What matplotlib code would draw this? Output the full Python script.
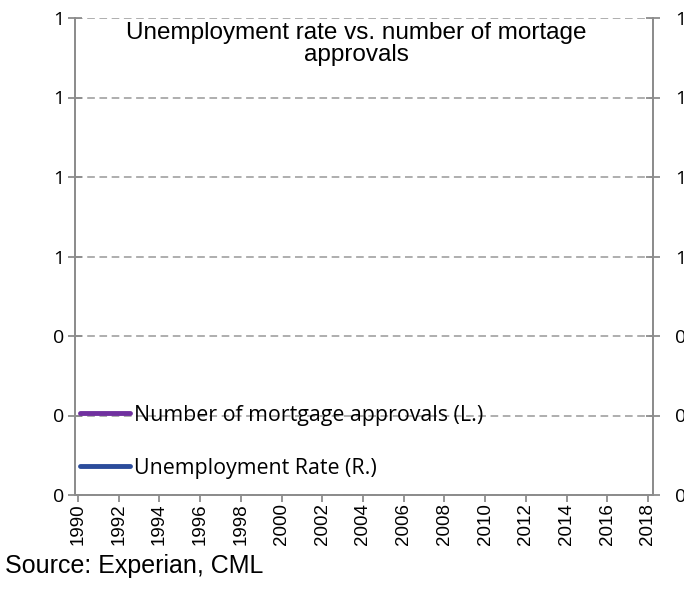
import matplotlib.pyplot as plt
from matplotlib.lines import Line2D

# el grafico original no tiene datos, solo ejes y leyenda
years = list(range(1990, 2019, 2))
mortgage_approvals = []
mortgage_years = []
unemployment_rate = []
unemployment_years = []
y_ticks = [0, 0.2, 0.4, 0.6, 0.8, 1.0, 1.2]

title = 'Unemployment rate vs. number of mortage\napprovals'
source = 'Source: Experian, CML'

grey = '#8c8c8c'

fig = plt.figure(figsize=(6.84, 5.96), dpi=100)
ax = fig.add_axes([75/684, 1 - 495/596, (653 - 75)/684, (495 - 18)/596])
ax2 = ax.twinx()

ax.plot(mortgage_years, mortgage_approvals, color='#70309f', lw=3.5, solid_capstyle='round')
ax2.plot(unemployment_years, unemployment_rate, color='#2b4c9b', lw=3.5, solid_capstyle='round')

ax.set_xlim(1989.85, 2018.25)
for a in (ax, ax2):
    a.set_ylim(0, 1.2)
    a.set_yticks(y_ticks)
    a.set_yticklabels(['%.0f' % v for v in y_ticks], fontsize=14, family='Open Sans')
    for s in a.spines.values():
        s.set_color(grey)
        s.set_linewidth(1.3)
    a.spines['top'].set_visible(False)
ax.tick_params(axis='y', direction='inout', length=10, color=grey, width=1.3, pad=3)
ax2.tick_params(axis='y', direction='inout', length=10, color=grey, width=1.3, pad=11)

ax.set_xticks(years)
ax.set_xticklabels([str(y) for y in years], rotation=90, fontsize=13.5, family='Liberation Sans')
ax.tick_params(axis='x', direction='out', length=5, color=grey, width=1.3, pad=1)

ax.grid(axis='y', color='#999999', linestyle=(0, (5, 3)), lw=1.1)
ax.set_axisbelow(True)

ax.text(0.487, 0.992, title, transform=ax.transAxes, ha='center', va='top',
        fontsize=17.5, family='Liberation Sans', linespacing=1.0)

handles = [Line2D([], [], color='#70309f', lw=3.5, solid_capstyle='round'),
           Line2D([], [], color='#2b4c9b', lw=3.5, solid_capstyle='round')]
labels = ['Number of mortgage approvals (L.)', 'Unemployment Rate (R.)']
leg = ax.legend(handles, labels, loc='lower left', bbox_to_anchor=(-0.024, -0.006),
                frameon=False, handlelength=2.3, handletextpad=0.2, labelspacing=1.5,
                prop={'family': 'Open Sans', 'size': 15.4})
leg.set_zorder(5)

fig.text(5/684, 1 - 566/596, source, ha='left', va='center', fontsize=18, family='Liberation Sans')

fig.savefig('out.png', dpi=100)
